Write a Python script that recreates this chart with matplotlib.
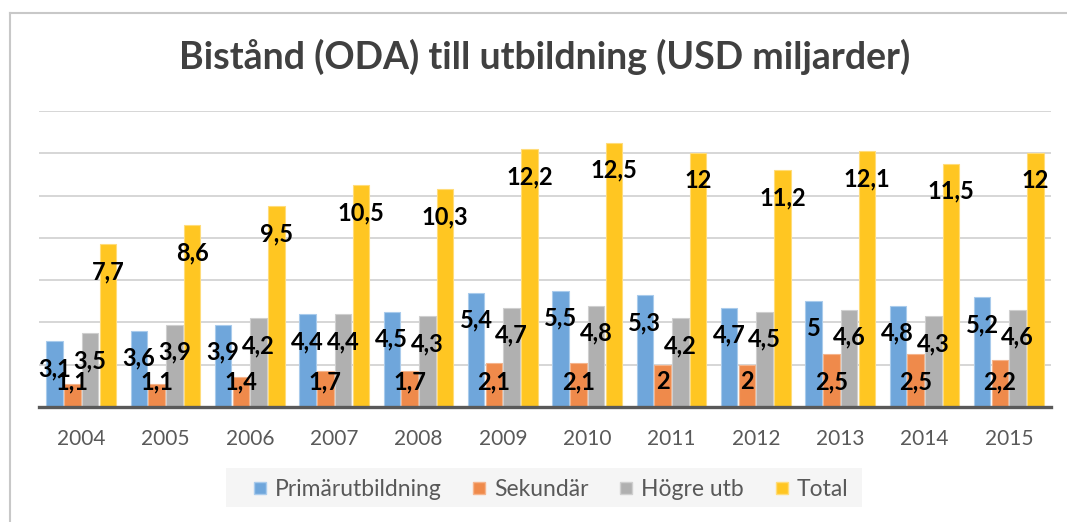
import numpy as np
import matplotlib
matplotlib.use("Agg")
import matplotlib.pyplot as plt
from matplotlib.lines import Line2D
from matplotlib.patches import Rectangle

# ==========================[Data]=============================
years = ['2004', '2005', '2006', '2007', '2008', '2009',
         '2010', '2011', '2012', '2013', '2014', '2015']
primary = [3.1, 3.6, 3.9, 4.4, 4.5, 5.4, 5.5, 5.3, 4.7, 5.0, 4.8, 5.2]
secondary = [1.1, 1.1, 1.4, 1.7, 1.7, 2.1, 2.1, 2.0, 2.0, 2.5, 2.5, 2.2]
higher = [3.5, 3.9, 4.2, 4.4, 4.3, 4.7, 4.8, 4.2, 4.5, 4.6, 4.3, 4.6]
total = [7.7, 8.6, 9.5, 10.5, 10.3, 12.2, 12.5, 12.0, 11.2, 12.1, 11.5, 12.0]

series_names = ['Primärutbildning', 'Sekundär', 'Högre utb', 'Total']
colors = ['#6FA6DB', '#EF8A4B', '#B0B0B0', '#FFC622']
edges = ['#A9CBEC', '#F5B48C', '#CFCFCF', '#FFDC7A']
title = 'Bistånd (ODA) till utbildning (USD miljarder)'

plt.rcParams['font.family'] = ['Lato', 'DejaVu Sans']

# ==========================[Figure]=============================
fig = plt.figure(figsize=(10.67, 5.22), dpi=100)
ax = fig.add_axes([39 / 1067, 115 / 522, 1012 / 1067, 296 / 522])

x = np.arange(len(years))
w = 0.211
data = [primary, secondary, higher, total]

for k, vals in enumerate(data):
    pos = x + (k - 1.5) * w
    ax.bar(pos, vals, width=w * 0.93, color=colors[k], edgecolor=edges[k],
           linewidth=0.8, zorder=2, label=series_names[k])
    for xi, v in zip(pos, vals):
        lbl = f"{v:g}".replace('.', ',')
        ax.text(xi, max(v - 1.3, 1.2), lbl, ha='center', va='center',
                fontsize=17, fontweight='bold', color='black', zorder=4)

ax.set_xlim(-0.5, len(years) - 0.5)
ax.set_ylim(0, 14)
ax.set_yticks(np.arange(2, 15, 2))
ax.yaxis.grid(True, color='#CFCFCF', linewidth=1.2, zorder=0)
ax.set_axisbelow(True)
ax.tick_params(axis='y', left=False, labelleft=False)
ax.set_xticks(x)
ax.set_xticklabels(years, fontsize=15, color='#595959')
ax.tick_params(axis='x', length=0, pad=16)
for s in ['top', 'right', 'left']:
    ax.spines[s].set_visible(False)
ax.spines['bottom'].set_color('#595959')
ax.spines['bottom'].set_linewidth(2.4)
ax.spines['bottom'].set_zorder(5)

fig.text(545 / 1067, 1 - 57 / 522, title, ha='center', va='center',
         fontsize=27, fontweight='bold', color='#404040')

# legend
fig.patches.append(Rectangle((226 / 1067, 15 / 522), 636 / 1067, 39 / 522,
                             transform=fig.transFigure, facecolor='#F5F5F5',
                             edgecolor='none', zorder=0))
handles = [Line2D([], [], marker='s', ls='none', markersize=9,
                  markerfacecolor=c, markeredgecolor=e)
           for c, e in zip(colors, edges)]
leg = fig.legend(handles, series_names, loc='center', ncol=4,
                 bbox_to_anchor=(550 / 1067, 1 - 490 / 522), frameon=False,
                 fontsize=16.5, handlelength=0.7, handletextpad=0.3,
                 columnspacing=1.3)
for t in leg.get_texts():
    t.set_color('#595959')

# outer border
fig.add_artist(Line2D([10 / 1067, 10 / 1067], [0, 1 - 13 / 522],
                      transform=fig.transFigure, color='#C8C8C8', lw=1.5))
fig.add_artist(Line2D([10 / 1067, 1], [1 - 13 / 522, 1 - 13 / 522],
                      transform=fig.transFigure, color='#C8C8C8', lw=1.5))

plt.savefig("out.png", dpi=100)
